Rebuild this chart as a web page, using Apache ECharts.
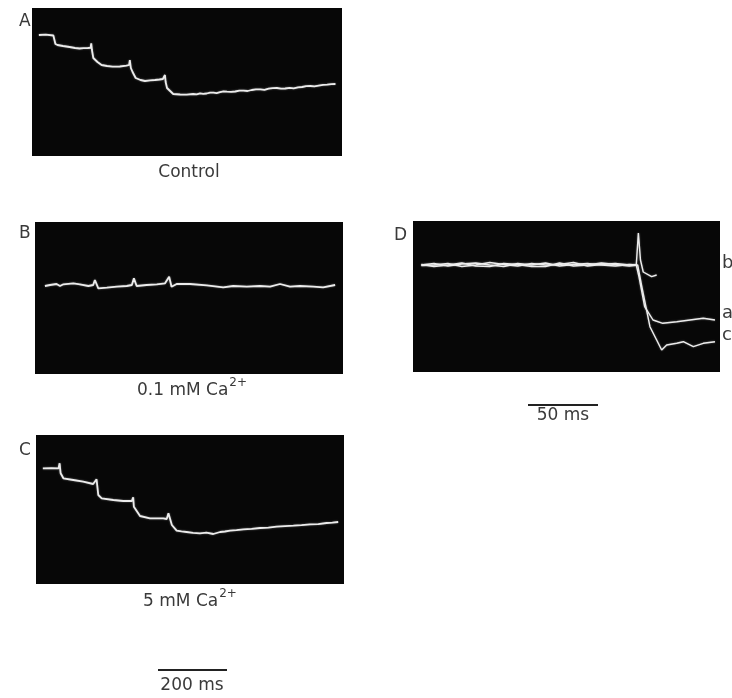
<!DOCTYPE html>
<html>
<head>
<meta charset="utf-8">
<script src="https://cdn.jsdelivr.net/npm/echarts@6/dist/echarts.min.js"></script>
<style>
  html, body { margin: 0; padding: 0; background: #ffffff; }
  #chart { width: 732px; height: 698px; }
</style>
</head>
<body>
<div id="chart"></div>
<script>
// ---------- DATA (time in ms, signal in arbitrary units) ----------
// Panel A: Control
const traceA_t = [20, 40, 62, 66, 68, 71, 74, 90, 109, 125, 138, 150, 162, 170, 172, 174, 178, 190, 202, 218, 234, 255, 274, 282, 284, 287, 292, 301, 315, 328, 343, 357, 370, 380, 386, 388, 392, 396, 410, 430, 449, 468, 478, 488, 497, 507, 517, 527, 536, 546, 556, 566, 578, 590, 602, 614, 626, 638, 650, 663, 675, 687, 699, 711, 723, 735, 748, 760, 772, 784, 796, 808, 820, 832, 845, 857, 869, 881];
const traceA_v = [121, 121.3, 120.5, 120.3, 112, 111, 111, 110, 109, 108, 107.5, 107.8, 108, 108.2, 112.7, 106, 98, 94, 91, 90, 89.3, 89.5, 90.3, 91, 96, 88, 84, 78, 76, 75, 75.7, 76, 76.5, 77, 81, 74, 68, 66, 62, 61.5, 61.3, 62, 61.6, 62.7, 62.2, 62.5, 63.4, 63.3, 62.9, 63.8, 64.6, 64.3, 64.1, 64.5, 65.4, 65.3, 65.0, 66, 66.6, 66.7, 66.2, 67.3, 67.9, 68, 67.4, 67.5, 68.2, 67.7, 68.6, 69, 69.9, 70, 69.6, 70.4, 71.2, 71.3, 71.9, 72];

// Panel B: 0.1 mM Ca2+
const traceB_t = [29, 44, 63, 73, 83, 112, 131, 156, 170, 175, 185, 210, 239, 268, 283, 289, 297, 326, 356, 380, 392, 399, 414, 453, 502, 550, 579, 619, 657, 687, 716, 745, 774, 813, 842, 877];
const traceB_v = [88, 89, 90, 88, 89.7, 90.7, 89.7, 88, 89, 94, 85.7, 86.3, 87.3, 88, 89, 95.7, 88, 89, 89.7, 90.7, 97.3, 87.3, 90, 90, 88.7, 86.7, 88, 87.3, 88, 87.3, 90, 87.3, 88, 87.3, 86.7, 89];

// Panel C: 5 mM Ca2+
const traceC_t = [20, 45, 66, 68, 69, 72, 80, 109, 138, 167, 177, 182, 192, 226, 255, 280, 284, 286, 304, 333, 372, 382, 387, 397, 411, 425, 440, 459, 479, 498, 518, 538, 552, 567, 586, 606, 630, 655, 679, 703, 728, 752, 776, 801, 825, 849, 866, 883];
const traceC_v = [115.7, 115.9, 115.7, 115.5, 120.7, 110.7, 105.7, 104, 102.3, 100, 104.7, 89, 85.7, 84, 83, 83, 86.7, 77.3, 68, 65.7, 65.7, 65, 70.7, 59, 53.3, 52.6, 52, 51.2, 50.7, 51.3, 50, 52, 52.5, 53.3, 53.8, 54.7, 55.1, 56, 56.4, 57.3, 57.9, 58.3, 58.8, 59.7, 59.9, 61, 61.4, 62];

// Panel D: three superimposed traces (a, b, c)
const traceDa_t = [6, 15, 25, 35, 45, 55, 65, 75, 85, 95, 105, 115, 125, 135, 145, 155, 160, 162, 166, 172, 179, 189, 198.5, 208, 216.4];
const traceDa_v = [107, 108.5, 106, 108, 109, 107, 105.5, 108.5, 107, 109, 106, 107.5, 108.5, 107, 106, 107.5, 107, 95, 65.3, 52, 48.7, 50.3, 52, 53.7, 52];
const traceDb_t = [6, 15, 25, 35, 45, 55, 65, 75, 85, 95, 105, 115, 125, 135, 145, 155, 160, 161.5, 163, 165, 171, 174.6];
const traceDb_v = [106.5, 107, 108.5, 105.5, 107, 109.5, 107.5, 106, 108.5, 107, 107.5, 109.5, 106, 107.5, 108.5, 107, 107, 139, 112, 100, 95.3, 97];
const traceDc_t = [6, 15, 25, 35, 45, 55, 65, 75, 85, 95, 105, 115, 125, 135, 145, 155, 161, 164, 169.8, 174.6, 178.2, 181.8, 189, 193.7, 200.9, 208, 216.4];
const traceDc_v = [107.5, 105.5, 107, 109, 106, 105.5, 108.5, 107.5, 105.5, 105.5, 109, 106, 107, 109, 107.5, 106, 107, 85, 45.3, 32, 22, 27, 28.7, 30.3, 25.3, 28.7, 30.3];

// Scale bars (ms)
const scaleBarSlow = [0, 200];
const scaleBarFast = [0, 50];

// Labels
const panelLetters = ['A', 'B', 'C', 'D'];
const panelCaptions = ['Control', '0.1 mM Ca', '5 mM Ca'];
const superscript = '2+';
const traceLetters = ['b', 'a', 'c'];
const scaleLabels = ['200 ms', '50 ms'];

// ---------- BUILD ----------
const zip = (t, v) => t.map((x, i) => [x, v[i]]);
const TRACE = '#ececec';
const BG = '#070707';
const INK = '#3a3a3a';
const FONT = '"DejaVu Sans", sans-serif';

const grids = [
  { left: 32, top: 8, width: 310, height: 148 },
  { left: 35, top: 222, width: 308, height: 152 },
  { left: 36, top: 435, width: 308, height: 149 },
  { left: 413, top: 221, width: 307, height: 151 },
  { left: 158, top: 669, width: 69, height: 2 },
  { left: 528, top: 404, width: 70, height: 2 }
].map((g, i) => Object.assign({
  show: i < 4, backgroundColor: BG, borderWidth: 0, containLabel: false
}, g));

const xMax = [900, 900, 900, 220, scaleBarSlow[1], scaleBarFast[1]];
const yMax = [148, 152, 149, 151, 1, 1];
const yMin = [0, 0, 0, 0, -1, -1];

const xAxis = xMax.map((m, i) => ({ type: 'value', gridIndex: i, min: 0, max: m, show: false }));
const yAxis = yMax.map((m, i) => ({ type: 'value', gridIndex: i, min: yMin[i], max: m, show: false }));

function trace(idx, data, width) {
  return {
    type: 'line', xAxisIndex: idx, yAxisIndex: idx, data: data,
    showSymbol: false, symbol: 'none', smooth: false, silent: true,
    lineStyle: { color: TRACE, width: width || 1.8, shadowColor: 'rgba(255,255,255,0.4)', shadowBlur: 2 }
  };
}

const series = [
  trace(0, zip(traceA_t, traceA_v)),
  trace(1, zip(traceB_t, traceB_v)),
  trace(2, zip(traceC_t, traceC_v)),
  trace(3, zip(traceDa_t, traceDa_v), 1.4),
  trace(3, zip(traceDb_t, traceDb_v), 1.4),
  trace(3, zip(traceDc_t, traceDc_v), 1.4),
  { type: 'line', xAxisIndex: 4, yAxisIndex: 4, data: scaleBarSlow.map(x => [x, 0]), showSymbol: false, symbol: 'none', silent: true, lineStyle: { color: '#222', width: 2 } },
  { type: 'line', xAxisIndex: 5, yAxisIndex: 5, data: scaleBarFast.map(x => [x, 0]), showSymbol: false, symbol: 'none', silent: true, lineStyle: { color: '#222', width: 2 } }
];

function txt(x, y, text, size, align, rich) {
  return {
    type: 'text', x: x, y: y, silent: true,
    style: {
      text: text, fill: INK, font: size + 'px ' + FONT,
      align: align || 'left', verticalAlign: 'top', rich: rich
    }
  };
}
const supRich = {
  m: { fontSize: 17, fontFamily: 'DejaVu Sans', fill: INK, verticalAlign: 'bottom', lineHeight: 24 },
  s: { fontSize: 12, fontFamily: 'DejaVu Sans', fill: INK, verticalAlign: 'top', lineHeight: 24, padding: [2, 0, 0, 1] }
};

const graphic = [
  txt(19, 13, panelLetters[0], 17),
  txt(19, 225, panelLetters[1], 17),
  txt(19, 442, panelLetters[2], 17),
  txt(394, 227, panelLetters[3], 17),
  txt(189, 164, panelCaptions[0], 17, 'center'),
  txt(192, 375, '{m|' + panelCaptions[1] + '}{s|' + superscript + '}', 17, 'center', supRich),
  txt(190, 586, '{m|' + panelCaptions[2] + '}{s|' + superscript + '}', 17, 'center', supRich),
  txt(722, 254, traceLetters[0], 18),
  txt(722, 304, traceLetters[1], 18),
  txt(722, 326, traceLetters[2], 18),
  txt(192, 677, scaleLabels[0], 17, 'center'),
  txt(563, 407, scaleLabels[1], 17, 'center')
];

const chart = echarts.init(document.getElementById('chart'), null, { renderer: 'canvas' });
chart.setOption({
  animation: false,
  backgroundColor: '#ffffff',
  grid: grids,
  xAxis: xAxis,
  yAxis: yAxis,
  series: series,
  graphic: graphic
});
</script>
</body>
</html>
